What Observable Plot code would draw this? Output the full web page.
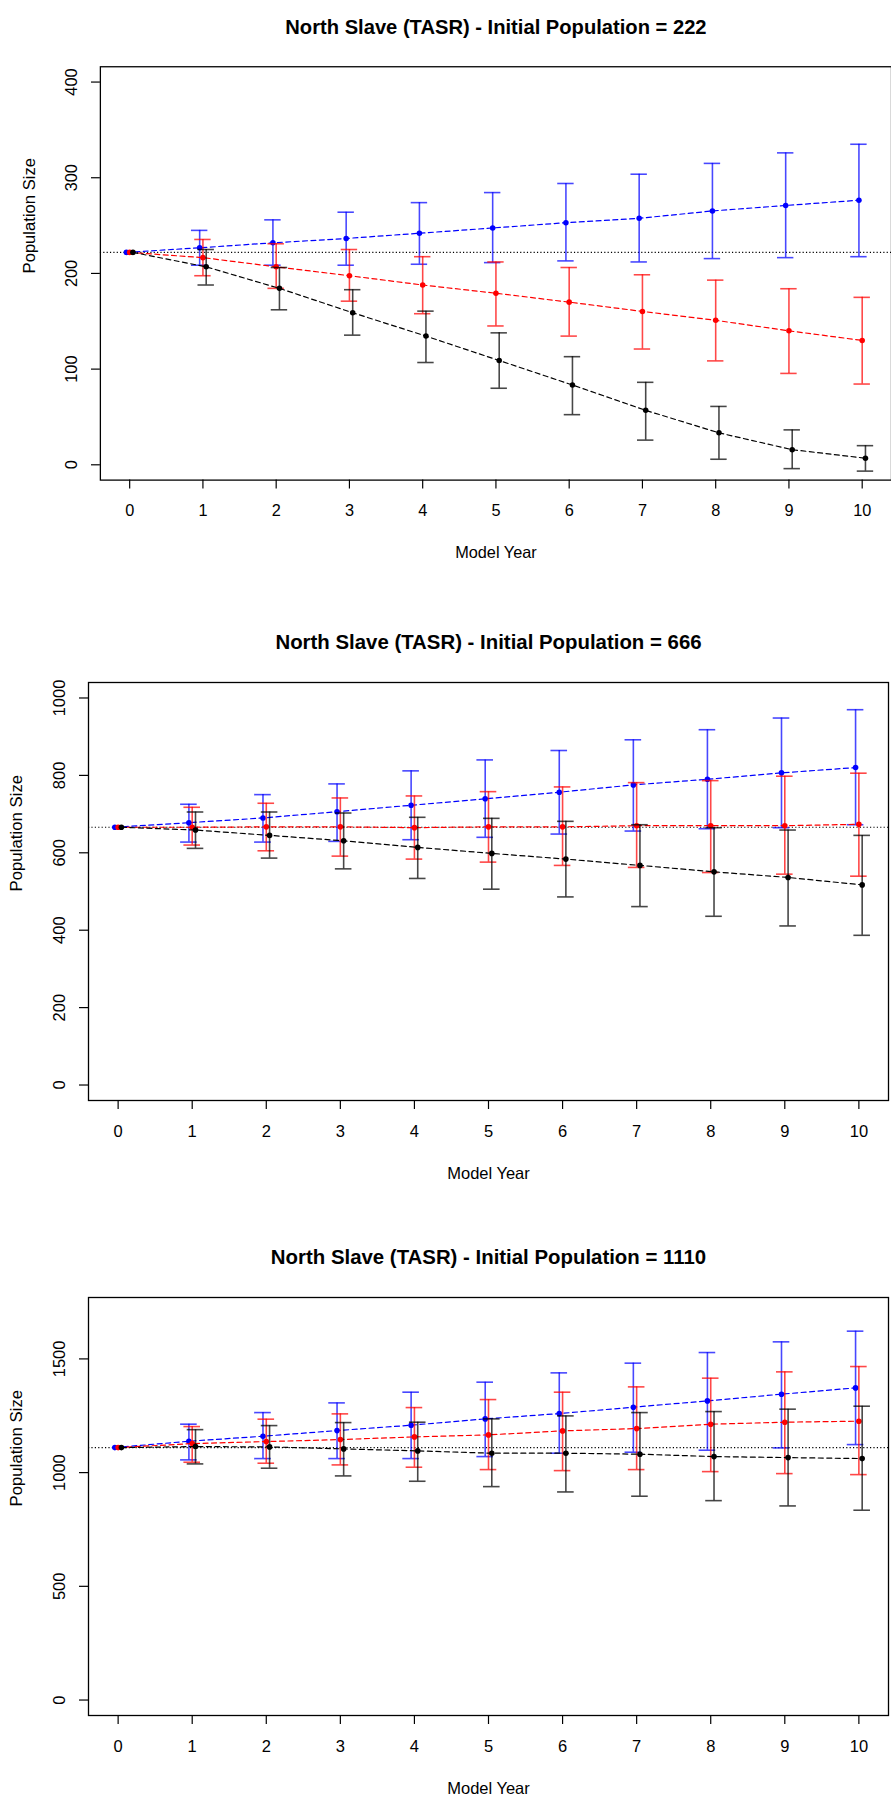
<!DOCTYPE html>
<html>
<head>
<meta charset="utf-8">
<script src="https://cdn.jsdelivr.net/npm/d3@7"></script>
<script src="https://cdn.jsdelivr.net/npm/@observablehq/plot@0.6"></script>
<style>
  html, body { margin: 0; padding: 0; background: #fff; }
  #page { position: relative; width: 891px; height: 1796px; overflow: hidden; background: #fff; }
  .panel { position: absolute; left: 0; width: 891px; overflow: hidden; }
</style>
</head>
<body>
<div id="page"></div>
<script>
// ---------- data ----------
const years = [0, 1, 2, 3, 4, 5, 6, 7, 8, 9, 10];
const xTicks = [0, 1, 2, 3, 4, 5, 6, 7, 8, 9, 10];

// Panel 1 : initial population 222
const p1Initial = 222;
const p1BlueMean = [222, 226.8, 232.0, 236.5, 242.0, 247.5, 253.0, 257.6, 265.3, 271.0, 276.5];
const p1BlueLo   = [222, 208.6, 208.6, 208.6, 209.6, 211.3, 213.1, 212.0, 215.5, 216.5, 217.5];
const p1BlueHi   = [222, 245.0, 256.0, 264.0, 274.0, 284.5, 294.0, 303.7, 315.0, 326.0, 335.0];
const p1RedMean  = [222, 216.5, 206.9, 197.6, 187.9, 179.3, 170.0, 160.3, 151.0, 140.0, 130.0];
const p1RedLo    = [222, 197.6, 184.4, 171.0, 157.9, 145.1, 134.5, 121.0, 108.6, 95.5, 84.4];
const p1RedHi    = [222, 235.5, 231.0, 225.0, 217.5, 212.0, 206.2, 198.6, 193.0, 184.0, 175.0];
const p1BlackMean= [222, 206.9, 184.4, 158.9, 134.5, 109.0, 83.4, 56.9, 33.4, 15.8, 6.9];
const p1BlackLo  = [222, 187.9, 162.0, 135.5, 106.9, 80.0, 52.4, 25.8, 5.8, -4.0, -6.6];
const p1BlackHi  = [222, 225.0, 206.2, 183.0, 160.6, 137.9, 113.0, 86.2, 61.0, 36.5, 20.0];
const p1YTicks = [0, 100, 200, 300, 400];

// Panel 2 : initial population 666
const p2Initial = 666;
const p2BlueMean = [666, 677.8, 690.0, 706.2, 722.8, 739.5, 756.5, 775.4, 790.0, 806.5, 820.2];
const p2BlueLo   = [666, 627.7, 627.7, 629.5, 633.8, 640.0, 648.4, 656.2, 662.2, 664.8, 672.5];
const p2BlueHi   = [666, 725.4, 750.3, 778.0, 811.7, 840.0, 864.3, 892.0, 918.0, 948.2, 969.7];
const p2RedMean  = [666, 666.0, 667.0, 667.0, 665.0, 667.0, 667.0, 670.0, 670.0, 670.0, 673.6];
const p2RedLo    = [666, 620.0, 605.2, 591.4, 583.7, 575.9, 567.4, 562.2, 549.0, 544.8, 539.6];
const p2RedHi    = [666, 717.6, 728.0, 741.7, 746.9, 758.0, 770.2, 781.3, 786.5, 797.9, 805.7];
const p2BlackMean= [666, 658.8, 645.0, 631.0, 614.0, 598.4, 583.7, 567.4, 550.8, 536.3, 517.1];
const p2BlackLo  = [666, 611.4, 586.3, 558.5, 533.7, 506.0, 486.0, 461.0, 436.0, 411.0, 386.8];
const p2BlackHi  = [666, 705.4, 705.4, 702.8, 691.7, 689.0, 681.3, 672.5, 664.8, 658.8, 645.0];
const p2YTicks = [0, 200, 400, 600, 800, 1000];

// Panel 3 : initial population 1110
const p3Initial = 1110;
const p3BlueMean = [1110, 1138.0, 1160.0, 1184.8, 1208.5, 1236.2, 1259.6, 1287.7, 1315.4, 1344.9, 1372.6];
const p3BlueLo   = [1110, 1056.0, 1061.7, 1061.7, 1061.7, 1070.5, 1085.3, 1089.7, 1098.5, 1108.7, 1123.2];
const p3BlueHi   = [1110, 1213.0, 1264.0, 1306.6, 1353.7, 1397.7, 1438.6, 1481.3, 1528.0, 1575.0, 1622.0];
const p3RedMean  = [1110, 1127.6, 1136.5, 1145.3, 1157.0, 1165.9, 1183.5, 1193.6, 1212.9, 1221.7, 1226.1];
const p3RedLo    = [1110, 1045.6, 1041.3, 1033.9, 1023.7, 1013.3, 1008.8, 1013.3, 1004.4, 995.6, 991.2];
const p3RedHi    = [1110, 1202.5, 1235.0, 1258.3, 1286.0, 1321.2, 1353.7, 1377.0, 1415.3, 1443.0, 1466.4];
const p3BlackMean= [1110, 1114.5, 1113.0, 1104.3, 1095.5, 1085.3, 1085.3, 1081.0, 1070.5, 1066.0, 1061.7];
const p3BlackLo  = [1110, 1038.3, 1019.3, 985.5, 962.0, 938.4, 915.0, 896.2, 876.8, 853.5, 834.6];
const p3BlackHi  = [1110, 1189.0, 1206.8, 1220.0, 1221.7, 1236.2, 1249.4, 1264.0, 1268.4, 1279.0, 1292.1];
const p3YTicks = [0, 500, 1000, 1500];

const titlePrefix = "North Slave (TASR) - Initial Population = ";
const xLabel = "Model Year";
const yLabel = "Population Size";

// ---------- styling ----------
const seriesColors = ["#0000FF", "#FF0000", "#000000"];
const seriesNudge = [-3.3, 0, 3.3];   // pixel nudge between the three series
const FONT = "'Liberation Sans', Arial, Helvetica, sans-serif";

function rows(mean, lo, hi) {
  return years.map((year, i) => ({year, mean: mean[i], lo: lo[i], hi: hi[i]}));
}

function panel(cfg) {
  const marks = [];
  marks.push(Plot.ruleY([cfg.initial], {y: d => d, stroke: "#000", strokeWidth: 1.1, strokeDasharray: "1.2,2.2"}));
  cfg.series.forEach((s, k) => {
    const data = rows(s[0], s[1], s[2]);
    const bars = data.filter(d => d.hi > d.lo);
    const color = seriesColors[k];
    const dx = seriesNudge[k];
    marks.push(Plot.line(data, {x: "year", y: "mean", stroke: color, strokeWidth: 1.2, strokeDasharray: "5,3.5", dx}));
    marks.push(Plot.ruleX(bars, {x: "year", y1: "lo", y2: "hi", stroke: color, strokeOpacity: 0.72, strokeWidth: 1.6, dx}));
    marks.push(Plot.ruleY(bars, {y: "lo", x1: "year", x2: "year", insetLeft: -8.3, insetRight: -8.3, stroke: color, strokeOpacity: 0.72, strokeWidth: 1.6, dx}));
    marks.push(Plot.ruleY(bars, {y: "hi", x1: "year", x2: "year", insetLeft: -8.3, insetRight: -8.3, stroke: color, strokeOpacity: 0.72, strokeWidth: 1.6, dx}));
    marks.push(Plot.dot(data, {x: "year", y: "mean", r: 2.8, fill: color, stroke: "none", dx}));
  });
  marks.push(Plot.frame({stroke: "#000", strokeWidth: 1.3}));
  marks.push(Plot.axisX({ticks: xTicks, tickFormat: d => String(d), tickSize: 9, tickPadding: 16, fontSize: 16.5, label: null, strokeWidth: 1.2}));
  marks.push(Plot.axisY({ticks: cfg.yTicks, tickFormat: d => String(d), tickSize: 9, tickPadding: 15, tickRotate: -90, fontSize: 16.5, label: null, strokeWidth: 1.2}));
  marks.push(Plot.text([titlePrefix + cfg.initial], {text: d => d, frameAnchor: "top", dy: -40, lineAnchor: "middle", fontSize: 20.4, fontWeight: "bold"}));
  marks.push(Plot.text([xLabel], {text: d => d, frameAnchor: "bottom", dy: 73, lineAnchor: "middle", fontSize: 16.5}));
  marks.push(Plot.text([yLabel], {text: d => d, frameAnchor: "left", dx: -72, rotate: -90, lineAnchor: "middle", fontSize: 16.8}));

  const svg = Plot.plot({
    width: cfg.width,
    height: cfg.height,
    marginLeft: cfg.marginLeft,
    marginRight: cfg.marginRight,
    marginTop: cfg.marginTop,
    marginBottom: cfg.marginBottom,
    x: {domain: [-0.4, 10.4]},
    y: {domain: cfg.yDomain},
    style: {fontFamily: FONT, color: "#000", background: "#fff", overflow: "visible"},
    marks
  });
  const div = document.createElement("div");
  div.className = "panel";
  div.style.top = cfg.top + "px";
  div.style.height = cfg.height + "px";
  div.appendChild(svg);
  document.getElementById("page").appendChild(div);
}

panel({
  initial: p1Initial, yTicks: p1YTicks, yDomain: [-16, 416],
  series: [[p1BlueMean, p1BlueLo, p1BlueHi], [p1RedMean, p1RedLo, p1RedHi], [p1BlackMean, p1BlackLo, p1BlackHi]],
  top: 0, width: 901, height: 615, marginLeft: 101, marginRight: 0, marginTop: 67, marginBottom: 130
});
panel({
  initial: p2Initial, yTicks: p2YTicks, yDomain: [-40, 1040],
  series: [[p2BlueMean, p2BlueLo, p2BlueHi], [p2RedMean, p2RedLo, p2RedHi], [p2BlackMean, p2BlackLo, p2BlackHi]],
  top: 615, width: 891, height: 615, marginLeft: 88, marginRight: 3, marginTop: 67, marginBottom: 130
});
panel({
  initial: p3Initial, yTicks: p3YTicks, yDomain: [-68, 1770],
  series: [[p3BlueMean, p3BlueLo, p3BlueHi], [p3RedMean, p3RedLo, p3RedHi], [p3BlackMean, p3BlackLo, p3BlackHi]],
  top: 1230, width: 891, height: 566, marginLeft: 88, marginRight: 3, marginTop: 67, marginBottom: 81
});
</script>
</body>
</html>
